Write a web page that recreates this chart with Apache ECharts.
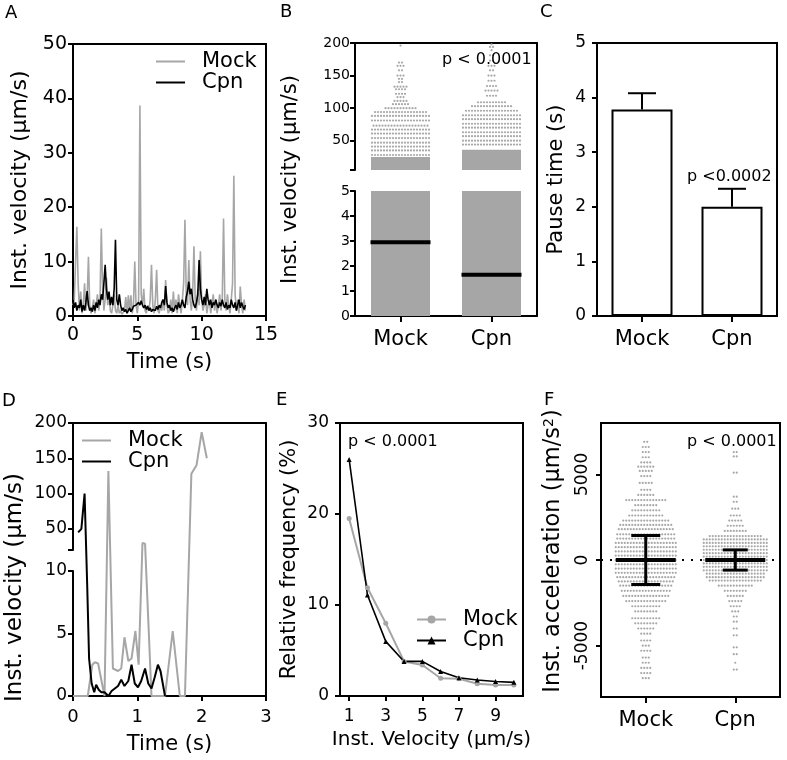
<!DOCTYPE html>
<html><head><meta charset="utf-8">
<script src="https://cdn.jsdelivr.net/npm/echarts@6/dist/echarts.min.js"></script>
<style>html,body{margin:0;padding:0;background:#fff}#c{width:787px;height:760px}</style>
</head><body><div id="c"></div>
<script>
// ================= DATA =================
const groups = ['Mock', 'Cpn'];

// Panel A: instantaneous velocity time series (sampled every aStep s)
const aStep = 0.1;
const aMock = [2,3,10,16.4,6,1,4.5,0.5,2,6, 1,3,10.9,2,0.5,1.5,3,0.5,2,4, 1,3,16.1,5,1,3,7,2,4,1,
  0.5,2,4,1,0.5,2,0.5,1,0.3,0.5, 1,3.5,0.5,3.8,1,3.8,0.5,2,10,2, 0.5,3,38.7,4,2,5,1,0.5,2,1,
  3,9.4,2,0.5,3,8.5,1,0.5,2,1, 3,1,6.6,2,0.5,1,3,0.5,4.5,1, 3,0.5,4,2,0.5,3,6,17.7,4,2,
  10.3,3,1,4,12.8,3,1,5,2,11.9, 3,1,2,4,0.5,2,3,0.5,2,4, 1,3,0.5,2,4,1,3,17.9,3,1,
  4,2,0.5,3,6,25.8,4,1,3,0.5, 5.4,2,0.5,3,1];
const aCpn = [3,1.5,2.5,1,2,1.5,3,0.8,2,1, 2.5,4.6,2,1,1.5,0.8,2,1,2.5,1.5, 3,2,4,3,6,9.4,5,3,4.5,2,
  3.5,2,5,14,3,2,4,2,1,1.5, 0.8,1.2,0.5,1,1.5,0.8,1.2,1.8,1.5,2, 1.8,2.5,2,2.8,2,1.5,2,1.2,1.8,1,
  1.5,0.8,1.2,1.5,1,1.8,1.2,2,1.5,2.5, 3,2,5.5,2.5,1.5,2,1,1.5,0.8,1.5, 2,1.2,2.5,1.5,2,3,2,1.5,3.5,4.5,
  6.3,4,5,3,2,1.5,2.5,4,10.3,5, 3,2,3.5,2,5,3,2,3,1.5,2.5, 2,3,2,1.5,2.5,1.8,3,2,1.5,2.5,
  1.2,2,1.5,3,2,1.5,2.5,1,2,3, 1.5,2.5,1.8,1.2,2];

// Panel B: velocity scatter; dense band (solid) + rows of dots [value, count]
const bMedian = [2.95, 1.65];
const bDenseTop = [25, 36];
const bMockRows = [[28,20],[35,20],[41,20],[47,20],[54,20],[61,20],[67,20],[73,19],[81,20],[88,20],[94,18],[100,11],
  [106,6],[111,5],[117,3],[122,4],[129,4],[133,5],[140,2],[145,2],[150,3],[158,2],[165,3],[170,2],[196,1]];
const bCpnRows = [[44,20],[50,20],[57,20],[63,20],[70,20],[76,20],[83,20],[89,20],[96,18],[103,14],[109,10],
  [119,4],[127,5],[134,4],[142,3],[150,3],[158,2],[165,3],[173,2],[181,2],[189,1],[194,2],[198,1]];

// Panel C: pause time mean + SEM
const cMean = [3.78, 2.0];
const cSem = [0.30, 0.33];

// Panel D: example traces (time s, velocity µm/s)
const dMockT = [0, 0.23, 0.30, 0.34, 0.39, 0.49, 0.55, 0.62, 0.70, 0.75, 0.80, 0.86, 0.91, 0.97, 1.02, 1.08, 1.12, 1.22, 1.43, 1.55, 1.66, 1.74, 1.84, 1.92, 2.00, 2.08];
const dMockV = [0, 0, 2.5, 2.7, 2.6, 0, 132, 2.2, 2.0, 2.2, 4.7, 2.8, 3.0, 5.2, 2.5, 30, 29, 0, 0, 5.2, 0, 0, 128, 140, 187, 150];
const dCpnT = [0.08, 0.13, 0.18, 0.22, 0.25, 0.29, 0.33, 0.36, 0.40, 0.44, 0.49, 0.55, 0.60, 0.65, 0.70, 0.75, 0.80, 0.86, 0.91, 0.96, 1.01, 1.06, 1.12, 1.17, 1.22, 1.27, 1.32, 1.36, 1.43];
const dCpnV = [45, 50, 100, 9, 3, 1, 0.3, 0.9, 0.5, 0.3, 0.3, 0, 0.4, 0.6, 0.8, 1.3, 0.8, 1.2, 2.5, 1.0, 0.7, 1.2, 2.2, 1.0, 0.6, 1.5, 2.5, 2.0, 0];

// Panel E: relative frequency distribution
const eVel = [1,2,3,4,5,6,7,8,9,10];
const eMock = [19.5, 11.9, 8.0, 3.8, 3.4, 1.95, 1.9, 1.35, 1.2, 1.2];
const eCpn = [26.0, 11.1, 6.0, 3.8, 3.8, 2.7, 2.0, 1.75, 1.6, 1.5];

// Panel F: acceleration scatter rows [value, count], mean and SD
const fMockRows = [[6900,2],[6600,3],[6300,3],[6000,3],[5700,4],[5450,6],[5200,5],[4900,4],[4500,5],[4100,4],[3800,6],[3500,14],
  [3200,8],[2900,10],[2600,12],[2300,16],[2050,18],[1800,19],[1500,20],[1250,20],[1000,21],[750,21],[500,21],[250,21],[0,21],
  [-250,21],[-500,21],[-750,21],[-1000,20],[-1250,19],[-1500,18],[-1800,17],[-2100,16],[-2400,14],[-2700,10],[-3000,8],
  [-3400,10],[-3700,8],[-4000,6],[-4300,4],[-4700,4],[-5000,3],[-5300,4],[-5700,3],[-6000,3],[-6300,4],[-6600,4],[-6900,3]];
const fCpnRows = [[6300,2],[6050,2],[5100,2],[3700,2],[3400,2],[3000,3],[2600,4],[2300,5],[2000,6],[1700,8],[1400,18],
  [1200,22],[1000,22],[800,22],[600,22],[400,22],[200,22],[0,22],[-200,22],[-400,22],[-600,22],[-800,20],[-1000,20],
  [-1200,18],[-1500,12],[-1800,8],[-2100,6],[-2400,5],[-2700,4],[-3000,3],[-3300,2],[-3600,2],[-4000,2],[-4400,2],
  [-5100,2],[-5500,2],[-6000,1],[-6400,2]];
const fMean = [0, 0];
const fSD = [1430, 590];

// ================= STYLE / LAYOUT =================
const FONT = 'DejaVu Sans';
const GRAY = '#a6a6a6';
const DOT = '#a8a8a8';
const BLACK = '#000';

// Broken axis D: lower 0..10 (125px), gap 21px, upper 20..200 (127px)
const D_LOW_MAX = 10, D_LOW_PX = 125, D_GAP_PX = 21, D_UP_MIN = 20, D_UP_MAX = 200, D_UP_PX = 127;
function dDisp(v) {
  if (v <= D_LOW_MAX) return v / D_LOW_MAX * D_LOW_PX;
  if (v <= D_UP_MIN) return D_LOW_PX + (v - D_LOW_MAX) / (D_UP_MIN - D_LOW_MAX) * D_GAP_PX;
  return D_LOW_PX + D_GAP_PX + (v - D_UP_MIN) / (D_UP_MAX - D_UP_MIN) * D_UP_PX;
}

function axisBase(extra) {
  return Object.assign({
    axisLine: {show: true, onZero: false, lineStyle: {color: BLACK, width: 2}},
    axisTick: {show: true, length: 5, lineStyle: {color: BLACK, width: 2}},
    axisLabel: {color: BLACK, fontFamily: FONT, fontSize: 18},
    splitLine: {show: false},
    nameTextStyle: {color: BLACK, fontFamily: FONT, fontSize: 21},
    nameLocation: 'middle'
  }, extra);
}
function lineOnly(extra) {
  return Object.assign({
    axisLine: {show: true, onZero: false, lineStyle: {color: BLACK, width: 2}},
    axisTick: {show: false}, axisLabel: {show: false}, splitLine: {show: false}
  }, extra);
}
function hiddenAxis(extra) { return Object.assign({show: false}, extra); }

const gridBox = {show: true, borderColor: BLACK, borderWidth: 2, backgroundColor: 'transparent', outerBoundsMode: 'none'};
const gridPlain = {show: false, outerBoundsMode: 'none'};

// Dot rows renderer (beeswarm-like horizontal spreading of equal values)
const DOT_GAP = 3, DOT_R = 1.1;
function rowsRender(params, api) {
  const c = api.coord([api.value(0), api.value(1)]);
  const n = api.value(2);
  const ch = [];
  for (let k = 0; k < n; k++) {
    ch.push({type: 'circle', shape: {cx: c[0] + (k - (n - 1) / 2) * DOT_GAP, cy: c[1], r: DOT_R}, style: {fill: DOT}});
  }
  return {type: 'group', children: ch};
}
function rowsData(rows, gi) { return rows.map(r => [gi, r[0], r[1]]); }

// Dense band renderer, clipped to the segment range
function bandRender(lo, hi) {
  return function (params, api) {
    const a = Math.max(api.value(1), lo), b = Math.min(api.value(2), hi);
    if (b <= a) return null;
    const p1 = api.coord([api.value(0), a]), p2 = api.coord([api.value(0), b]);
    const hw = 29.5;
    return {type: 'rect', shape: {x: p1[0] - hw, y: p2[1], width: 2 * hw, height: p1[1] - p2[1]}, style: {fill: GRAY}};
  };
}

const titleStyle = {fontFamily: FONT, fontWeight: 'normal', fontSize: 18, color: BLACK};
const titles = [
  ['A', 5, 4, 18], ['B', 280, 3, 18], ['C', 540, 3, 18], ['D', 2, 392, 18], ['E', 276, 391, 18], ['F', 544, 391, 18],
  ['p < 0.0001', 442, 52, 16], ['p <0.0002', 687, 169, 16], ['p < 0.0001', 348, 434, 16], ['p < 0.0001', 687, 434, 16]
].map(t => ({text: t[0], left: t[1], top: t[2], padding: 0, textStyle: Object.assign({}, titleStyle, {fontSize: t[3]})}));

const legendBase = {
  orient: 'vertical', itemWidth: 29, itemGap: 0, selectedMode: false, padding: 0,
  formatter: n => n.split(':')[1],
  textStyle: {fontFamily: FONT, fontSize: 21, color: BLACK, padding: [0, 0, 0, 12], lineHeight: 20}
};

const plainNum = v => String(v);

const option = {
  animation: false,
  textStyle: {fontFamily: FONT, color: BLACK},
  title: titles,
  legend: [
    Object.assign({}, legendBase, {data: [{name: 'A:Mock', icon: 'rect'}, {name: 'A:Cpn', icon: 'rect'}], itemHeight: 2, left: 156, top: 51}),
    Object.assign({}, legendBase, {data: [{name: 'D:Mock', icon: 'rect'}, {name: 'D:Cpn', icon: 'rect'}], itemHeight: 2, left: 82, top: 430}),
    Object.assign({}, legendBase, {data: ['E:Mock', 'E:Cpn'], itemHeight: 10, left: 416, top: 609})
  ],
  grid: [
    Object.assign({left: 73, top: 44, width: 193, height: 272}, gridBox),   // 0 A
    Object.assign({left: 355, top: 43, width: 182, height: 273}, gridPlain), // 1 B frame
    Object.assign({left: 355, top: 191, width: 182, height: 125}, gridPlain), // 2 B lower
    Object.assign({left: 355, top: 43, width: 182, height: 127}, gridPlain), // 3 B upper
    Object.assign({left: 597, top: 43, width: 180, height: 273}, gridBox),  // 4 C
    Object.assign({left: 73, top: 423, width: 193, height: 273}, gridPlain), // 5 D frame/data
    Object.assign({left: 73, top: 571, width: 193, height: 125}, gridPlain), // 6 D lower
    Object.assign({left: 73, top: 423, width: 193, height: 127}, gridPlain), // 7 D upper
    Object.assign({left: 340, top: 423, width: 183, height: 273}, gridBox), // 8 E
    Object.assign({left: 601, top: 423, width: 179, height: 274}, gridBox)  // 9 F
  ],
  xAxis: [
    axisBase({gridIndex: 0, type: 'value', min: 0, max: 15, interval: 5, name: 'Time (s)', nameGap: 36,
      axisLabel: {color: BLACK, fontFamily: FONT, fontSize: 19, margin: 10}}),                                   // 0
    axisBase({gridIndex: 1, type: 'category', data: groups, axisTick: {show: true, alignWithLabel: true, length: 6, lineStyle: {color: BLACK, width: 2}},
      axisLabel: {color: BLACK, fontFamily: FONT, fontSize: 21, margin: 13}}),                                   // 1
    lineOnly({gridIndex: 1, type: 'category', data: groups, position: 'top'}),                                   // 2
    hiddenAxis({gridIndex: 2, type: 'category', data: groups}),                                                   // 3
    hiddenAxis({gridIndex: 3, type: 'category', data: groups}),                                                   // 4
    axisBase({gridIndex: 4, type: 'category', data: groups, axisTick: {show: true, alignWithLabel: true, length: 6, lineStyle: {color: BLACK, width: 2}},
      axisLabel: {color: BLACK, fontFamily: FONT, fontSize: 21, margin: 13}}),                                   // 5
    axisBase({gridIndex: 5, type: 'value', min: 0, max: 3, interval: 1, name: 'Time (s)', nameGap: 38,
      axisLabel: {color: BLACK, fontFamily: FONT, fontSize: 18, margin: 12}}),                                   // 6
    lineOnly({gridIndex: 5, type: 'value', min: 0, max: 3, position: 'top'}),                                    // 7
    hiddenAxis({gridIndex: 6, type: 'value', min: 0, max: 3}),                                                    // 8
    hiddenAxis({gridIndex: 7, type: 'value', min: 0, max: 3}),                                                    // 9
    axisBase({gridIndex: 8, type: 'value', min: 0.5, max: 10.5, name: 'Inst. Velocity (\u03bcm/s)', nameGap: 34,
      nameTextStyle: {color: BLACK, fontFamily: FONT, fontSize: 20},
      axisTick: {show: true, length: 5, customValues: [1, 3, 5, 7, 9], lineStyle: {color: BLACK, width: 2}},
      axisLabel: {color: BLACK, fontFamily: FONT, fontSize: 17, margin: 12, customValues: [1, 3, 5, 7, 9]}}),   // 10
    axisBase({gridIndex: 9, type: 'category', data: groups, axisTick: {show: true, alignWithLabel: true, length: 6, lineStyle: {color: BLACK, width: 2}},
      axisLabel: {color: BLACK, fontFamily: FONT, fontSize: 21, margin: 13}})                                    // 11
  ],
  yAxis: [
    axisBase({gridIndex: 0, type: 'value', min: 0, max: 50, interval: 10, name: 'Inst. velocity (\u03bcm/s)', nameGap: 42,
      nameTextStyle: {color: BLACK, fontFamily: FONT, fontSize: 22},
      axisLabel: {color: BLACK, fontFamily: FONT, fontSize: 19, margin: 6}}),                                    // 0
    {gridIndex: 1, type: 'value', min: 0, max: 1, position: 'left', axisLine: {show: false}, axisTick: {show: false},
      axisLabel: {show: false}, splitLine: {show: false}, name: 'Inst. velocity (\u03bcm/s)', nameLocation: 'middle', nameGap: 54,
      nameTextStyle: {color: BLACK, fontFamily: FONT, fontSize: 21}},                                            // 1
    lineOnly({gridIndex: 1, type: 'value', min: 0, max: 1, position: 'right'}),                                  // 2
    axisBase({gridIndex: 2, type: 'value', min: 0, max: 5, interval: 1,
      axisLabel: {color: BLACK, fontFamily: FONT, fontSize: 14, margin: 5}}),                                    // 3
    axisBase({gridIndex: 3, type: 'value', min: 5, max: 200,
      axisTick: {show: true, length: 5, customValues: [5, 50, 100, 150, 200], lineStyle: {color: BLACK, width: 2}},
      axisLabel: {color: BLACK, fontFamily: FONT, fontSize: 14, margin: 5, customValues: [50, 100, 150, 200]}}), // 4
    axisBase({gridIndex: 4, type: 'value', min: 0, max: 5, interval: 1, name: 'Pause time (s)', nameGap: 30,
      axisLabel: {color: BLACK, fontFamily: FONT, fontSize: 17, margin: 11}}),                                   // 5
    {gridIndex: 5, type: 'value', min: 0, max: D_LOW_PX + D_GAP_PX + D_UP_PX, position: 'left', axisLine: {show: false}, axisTick: {show: false},
      axisLabel: {show: false}, splitLine: {show: false}, name: 'Inst. velocity (\u03bcm/s)', nameLocation: 'middle', nameGap: 46,
      nameTextStyle: {color: BLACK, fontFamily: FONT, fontSize: 23, padding: [0, 56, 0, 0]}},                    // 6
    lineOnly({gridIndex: 5, type: 'value', min: 0, max: 1, position: 'right'}),                                  // 7
    axisBase({gridIndex: 6, type: 'value', min: 0, max: D_LOW_MAX, interval: 5,
      axisLabel: {color: BLACK, fontFamily: FONT, fontSize: 17, margin: 6}}),                                    // 8
    axisBase({gridIndex: 7, type: 'value', min: D_UP_MIN, max: D_UP_MAX,
      axisTick: {show: true, length: 5, customValues: [20, 50, 100, 150, 200], lineStyle: {color: BLACK, width: 2}},
      axisLabel: {color: BLACK, fontFamily: FONT, fontSize: 17, margin: 6, customValues: [50, 100, 150, 200]}}), // 9
    axisBase({gridIndex: 8, type: 'value', min: 0, max: 30, interval: 10, name: 'Relative frequency (%)', nameGap: 40,
      axisLabel: {color: BLACK, fontFamily: FONT, fontSize: 17, margin: 11}}),                                   // 10
    axisBase({gridIndex: 9, type: 'value', min: -8000, max: 8000, name: 'Inst. acceleration (\u03bcm/s{sup|2})', nameGap: 36,
      nameTextStyle: {color: BLACK, fontFamily: FONT, fontSize: 22.5, padding: [0, 0, 0, 18],
        rich: {sup: {fontSize: 14, verticalAlign: 'top', fontFamily: FONT, color: BLACK}}},
      axisTick: {show: true, length: 5, customValues: [-5000, 0, 5000], lineStyle: {color: BLACK, width: 2}},
      axisLabel: {color: BLACK, fontFamily: FONT, fontSize: 17, margin: 10, rotate: 90, formatter: plainNum, customValues: [-5000, 0, 5000]}}) // 11
  ],
  series: [
    // ---- A ----
    {name: 'A:Mock', type: 'line', xAxisIndex: 0, yAxisIndex: 0, symbol: 'none', data: aMock.map((v, i) => [i * aStep, v]),
      lineStyle: {color: GRAY, width: 1.6}, itemStyle: {color: GRAY}},
    {name: 'A:Cpn', type: 'line', xAxisIndex: 0, yAxisIndex: 0, symbol: 'none', data: aCpn.map((v, i) => [i * aStep, v]),
      lineStyle: {color: BLACK, width: 1.6}, itemStyle: {color: BLACK}},
    // ---- B ----
    {type: 'custom', xAxisIndex: 4, yAxisIndex: 4, renderItem: bandRender(5, 200), data: groups.map((g, i) => [i, 0, bDenseTop[i]]), z: 2},
    {type: 'custom', xAxisIndex: 3, yAxisIndex: 3, renderItem: bandRender(0, 5), data: groups.map((g, i) => [i, 0, bDenseTop[i]]), z: 2},
    {type: 'custom', xAxisIndex: 4, yAxisIndex: 4, renderItem: rowsRender, data: rowsData(bMockRows, 0).concat(rowsData(bCpnRows, 1)), z: 3},
    {type: 'custom', xAxisIndex: 3, yAxisIndex: 3, z: 4, data: bMedian.map((m, i) => [i, m]),
      renderItem: (p, api) => { const c = api.coord([api.value(0), api.value(1)]);
        return {type: 'line', shape: {x1: c[0] - 30, y1: c[1], x2: c[0] + 30, y2: c[1]}, style: {stroke: BLACK, lineWidth: 4}}; }},
    // ---- C ----
    {type: 'bar', xAxisIndex: 5, yAxisIndex: 5, data: cMean, barWidth: 61,
      itemStyle: {color: '#fff', borderColor: BLACK, borderWidth: 2}, z: 2},
    {type: 'custom', xAxisIndex: 5, yAxisIndex: 5, z: 3, data: cMean.map((m, i) => [i, m, m + cSem[i]]),
      renderItem: (p, api) => { const b = api.coord([api.value(0), api.value(1)]), t = api.coord([api.value(0), api.value(2)]);
        return {type: 'group', children: [
          {type: 'line', shape: {x1: b[0], y1: b[1], x2: t[0], y2: t[1]}, style: {stroke: BLACK, lineWidth: 2}},
          {type: 'line', shape: {x1: t[0] - 14, y1: t[1], x2: t[0] + 14, y2: t[1]}, style: {stroke: BLACK, lineWidth: 2}}]}; }},
    // ---- D ----
    {name: 'D:Mock', type: 'line', xAxisIndex: 6, yAxisIndex: 6, symbol: 'none', data: dMockT.map((t, i) => [t, dDisp(dMockV[i])]),
      lineStyle: {color: GRAY, width: 2}, itemStyle: {color: GRAY}},
    {name: 'D:Cpn', type: 'line', xAxisIndex: 6, yAxisIndex: 6, symbol: 'none', data: dCpnT.map((t, i) => [t, dDisp(dCpnV[i])]),
      lineStyle: {color: BLACK, width: 2}, itemStyle: {color: BLACK}},
    // ---- E ----
    {name: 'E:Mock', type: 'line', xAxisIndex: 10, yAxisIndex: 10, symbol: 'circle', symbolSize: 5, data: eVel.map((x, i) => [x, eMock[i]]),
      lineStyle: {color: GRAY, width: 2}, itemStyle: {color: GRAY}},
    {name: 'E:Cpn', type: 'line', xAxisIndex: 10, yAxisIndex: 10, symbol: 'triangle', symbolSize: 5, data: eVel.map((x, i) => [x, eCpn[i]]),
      lineStyle: {color: BLACK, width: 1.6}, itemStyle: {color: BLACK}},
    // ---- F ----
    {type: 'custom', xAxisIndex: 11, yAxisIndex: 11, renderItem: rowsRender, data: rowsData(fMockRows, 0).concat(rowsData(fCpnRows, 1)), z: 3,
      markLine: {silent: true, symbol: ['none', 'none'], label: {show: false}, lineStyle: {color: BLACK, type: [2, 7], width: 2}, data: [{yAxis: 0}], z: 1}},
    {type: 'custom', xAxisIndex: 11, yAxisIndex: 11, z: 5, data: fMean.map((m, i) => [i, m, fSD[i]]),
      renderItem: (p, api) => { const i = api.value(0), m = api.value(1), s = api.value(2);
        const c = api.coord([i, m]), u = api.coord([i, m + s]), d = api.coord([i, m - s]);
        const cap = i === 0 ? 14.5 : 12.5;
        return {type: 'group', children: [
          {type: 'line', shape: {x1: c[0] - 30, y1: c[1], x2: c[0] + 30, y2: c[1]}, style: {stroke: BLACK, lineWidth: 4}},
          {type: 'line', shape: {x1: u[0], y1: u[1], x2: d[0], y2: d[1]}, style: {stroke: BLACK, lineWidth: 3}},
          {type: 'line', shape: {x1: u[0] - cap, y1: u[1], x2: u[0] + cap, y2: u[1]}, style: {stroke: BLACK, lineWidth: 3}},
          {type: 'line', shape: {x1: d[0] - cap, y1: d[1], x2: d[0] + cap, y2: d[1]}, style: {stroke: BLACK, lineWidth: 3}}]}; }}
  ]
};
const chart = echarts.init(document.getElementById('c'), null, {renderer: 'canvas'});
chart.setOption(option);
</script></body></html>
